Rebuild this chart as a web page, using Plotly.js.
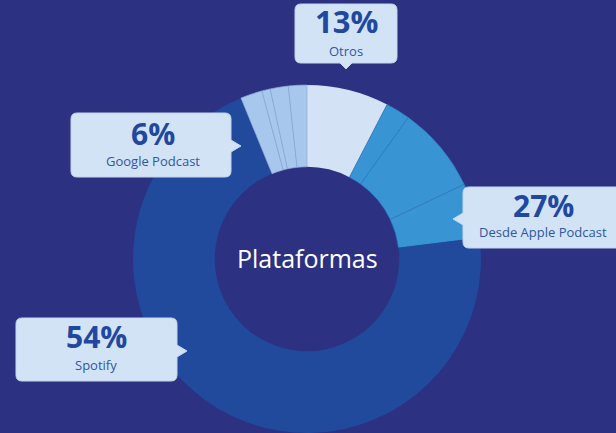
<!DOCTYPE html>
<html>
<head>
<meta charset="utf-8">
<script src="https://cdn.plot.ly/plotly-3.0.1.min.js"></script>
<style>
html,body{margin:0;padding:0;background:#2c3182;}
#chart{width:616px;height:433px;}
</style>
</head>
<body>
<div id="chart"></div>
<script>
// Slice sizes (share of the ring, in degrees)
var sliceLabels = ['Otros', 'Apple Podcast 1', 'Apple Podcast 2', 'Apple Podcast 3', 'Spotify',
                   'Google Podcast 1', 'Google Podcast 2', 'Google Podcast 3', 'Google Podcast 4'];
var sliceValues = [27.4, 8.2, 29.0, 18.4, 254.7, 7.3, 2.8, 6.0, 6.2];
var sliceGroup  = ['otros', 'apple', 'apple', 'apple', 'spotify', 'google', 'google', 'google', 'google'];

// Callout texts
var calloutPercents = ['13%', '6%', '27%', '54%'];
var calloutNames    = ['Otros', 'Google Podcast', 'Desde Apple Podcast', 'Spotify'];
var centerTitle     = 'Plataformas';

var W = 616, H = 433;
var groupFill = {otros:'#d3e3f5', apple:'#3894d3', spotify:'#21499c', google:'#a8c7ec'};
var groupLine = {otros:'#d3e3f5', apple:'#2f7cc0', spotify:'#21499c', google:'#8cabd8'};
var groupLineW = {otros:0, apple:0.7, spotify:0, google:0.7};

function px(x){ return x / W; }
function py(y){ return 1 - y / H; }
function P(x, y){ return px(x).toFixed(5) + ',' + py(y).toFixed(5); }

// rounded box with a small pointer
function callout(l, t, r, b, side, pos, tip){
  var rd = 6, pw = 6, s = 'M' + P(l + rd, t) + ' L' + P(r - rd, t) + ' Q' + P(r, t) + ' ' + P(r, t + rd);
  if (side === 'right') s += ' L' + P(r, pos - pw) + ' L' + P(tip, pos) + ' L' + P(r, pos + pw);
  s += ' L' + P(r, b - rd) + ' Q' + P(r, b) + ' ' + P(r - rd, b);
  if (side === 'bottom') s += ' L' + P(pos + pw, b) + ' L' + P(pos, tip) + ' L' + P(pos - pw, b);
  s += ' L' + P(l + rd, b) + ' Q' + P(l, b) + ' ' + P(l, b - rd);
  if (side === 'left') s += ' L' + P(l, pos + pw) + ' L' + P(tip, pos) + ' L' + P(l, pos - pw);
  s += ' L' + P(l, t + rd) + ' Q' + P(l, t) + ' ' + P(l + rd, t) + ' Z';
  return s;
}

var boxes = [
  {l:295, t:4,   r:397, b:63,  side:'bottom', pos:346, tip:69,  cx:346, ny:21,  ly:51,  ps:31},
  {l:71,  t:113, r:231, b:177, side:'right',  pos:146, tip:241, cx:153, ny:133, ly:161, ps:30},
  {l:463, t:187, r:622, b:248, side:'left',   pos:219, tip:453, cx:543, ny:206, ly:232, ps:30},
  {l:16,  t:318, r:177, b:381, side:'right',  pos:351, tip:187, cx:96,  ny:336, ly:365, ps:30}
];

var shapes = [], annotations = [];
boxes.forEach(function(bx, i){
  shapes.push({type:'path', xref:'paper', yref:'paper', path:callout(bx.l, bx.t, bx.r, bx.b, bx.side, bx.pos, bx.tip),
               fillcolor:'#d3e3f6', line:{color:'#c2d5ef', width:1}, layer:'above'});
  annotations.push({xref:'paper', yref:'paper', x:px(bx.cx), y:py(bx.ny), xanchor:'center', yanchor:'middle',
                    showarrow:false, text:'<b>' + calloutPercents[i] + '</b>',
                    font:{family:'Open Sans, sans-serif', size:bx.ps, color:'#2148a0'}});
  annotations.push({xref:'paper', yref:'paper', x:px(bx.cx), y:py(bx.ly), xanchor:'center', yanchor:'middle',
                    showarrow:false, text:calloutNames[i],
                    font:{family:'Open Sans, sans-serif', size:13, color:'#2d56a8'}});
});
annotations.push({xref:'paper', yref:'paper', x:px(307), y:py(258), xanchor:'center', yanchor:'middle',
                  showarrow:false, text:centerTitle,
                  font:{family:'Open Sans, sans-serif', size:25, color:'#ffffff'}});

var cx = 307, cy = 259, R = 174;
var trace = {
  type:'pie',
  labels:sliceLabels,
  values:sliceValues,
  sort:false,
  direction:'clockwise',
  rotation:0,
  hole:0.53,
  textinfo:'none',
  hoverinfo:'none',
  showlegend:false,
  domain:{x:[px(cx - R), px(cx + R)], y:[py(cy + R), py(cy - R)]},
  marker:{
    colors:sliceGroup.map(function(g){ return groupFill[g]; }),
    line:{color:sliceGroup.map(function(g){ return groupLine[g]; }),
          width:sliceGroup.map(function(g){ return groupLineW[g]; })}
  }
};

Plotly.newPlot('chart', [trace], {
  width:W, height:H,
  margin:{l:0, r:0, t:0, b:0},
  paper_bgcolor:'#2c3182',
  plot_bgcolor:'#2c3182',
  shapes:shapes,
  annotations:annotations
}, {displayModeBar:false, staticPlot:true});
</script>
</body>
</html>
